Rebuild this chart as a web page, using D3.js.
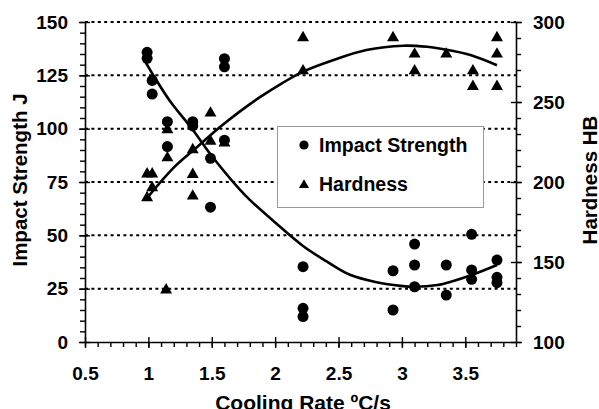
<!DOCTYPE html>
<html>
<head>
<meta charset="utf-8">
<script src="https://cdn.jsdelivr.net/npm/d3@7"></script>
<style>
  body { margin: 0; background: #fff; }
  svg { display: block; font-family: Arial, "Liberation Sans", sans-serif; font-weight: bold; }
</style>
</head>
<body>
<div id="chart"></div>
<script>
// impact strength points [cooling rate, J]
var impactPoints = [
	[0.99,135.8],[0.99,133.0],[1.03,122.6],[1.03,116.2],[1.15,103.3],[1.15,91.6],
	[1.35,103.3],[1.35,101.3],[1.49,86.1],[1.49,63.2],[1.60,132.8],[1.60,129.0],[1.60,94.6],
	[2.22,35.3],[2.22,15.8],[2.22,11.9],[2.93,33.4],[2.93,15.0],
	[3.10,45.9],[3.10,36.1],[3.10,25.9],[3.35,36.1],[3.35,22.0],
	[3.55,50.5],[3.55,33.8],[3.55,29.4],[3.75,38.4],[3.75,30.3],[3.75,27.8]
];
// hardness points [cooling rate, HB]
var hardnessPoints = [
	[0.99,205.0],[1.03,205.0],[1.03,196.4],[0.99,190.2],[1.15,232.7],[1.15,215.1],[1.14,132.5],
	[1.35,220.2],[1.35,204.7],[1.35,191.2],[1.49,243.1],[1.49,225.4],[1.60,224.4],
	[2.22,290.2],[2.22,269.5],[2.93,290.2],[3.10,279.9],[3.10,269.5],[3.35,279.9],
	[3.56,269.5],[3.56,259.7],[3.75,290.2],[3.75,279.9],[3.75,259.7]
];
// trend lines
var impactTrend = [
	[0.98,131],[1.05,124],[1.17,113],[1.35,99.5],[1.49,88],[1.72,71.5],[1.80,66.6],
	[2.0,56],[2.22,45],[2.4,38],[2.59,31.5],[2.8,28],[2.99,26.3],[3.1,25.9],
	[3.28,26.7],[3.4,28.5],[3.55,31.4],[3.75,36.1]
];
var hardnessTrend = [
	[0.99,190],[1.2,209],[1.38,221.5],[1.56,234],[1.72,244],[1.88,253],[2.05,261.5],
	[2.22,269],[2.45,276],[2.72,282.5],[3.01,285.2],[3.2,284.5],[3.33,283],[3.54,279.4],[3.75,273]
];
var xTicks = [0.5, 1, 1.5, 2, 2.5, 3, 3.5];
var leftTicks = [0, 25, 50, 75, 100, 125, 150];
var rightTicks = [100, 150, 200, 250, 300];
var legendLabels = ["Impact Strength", "Hardness"];

var width = 599, height = 409;
var pLeft = 85, pRight = 516, pTop = 22, pBottom = 342;

var svg = d3.select("#chart").append("svg")
	.attr("width", width)
	.attr("height", height);

var x = d3.scaleLinear().domain([0.5, 3.9]).range([pLeft, pRight]);
var yL = d3.scaleLinear().domain([0, 150]).range([pBottom, pTop]);
var yR = d3.scaleLinear().domain([100, 300]).range([pBottom, pTop]);

// dotted gridlines
svg.append("g").selectAll("line")
	.data(leftTicks.filter(function(d){ return d > 0; }))
	.enter().append("line")
	.attr("x1", pLeft).attr("x2", pRight)
	.attr("y1", function(d){ return yL(d); })
	.attr("y2", function(d){ return yL(d); })
	.attr("stroke", "#000")
	.attr("stroke-width", 2)
	.attr("stroke-dasharray", "3,3.4");

function styleAxis(g){
	g.select(".domain").attr("stroke", "#000").attr("stroke-width", 1.6);
	g.selectAll(".tick line").attr("stroke", "#000").attr("stroke-width", 1.4);
	g.selectAll("text").attr("fill", "#000")
		.style("font-size", "19px").style("font-weight", "bold")
		.style("font-family", "Arial, 'Liberation Sans', sans-serif");
}

// bottom axis: minor then major
var xMinor = d3.range(5, 40).map(function(d){ return d / 10; });
svg.append("g").attr("transform", "translate(0," + pBottom + ")")
	.call(d3.axisBottom(x).tickValues(xMinor).tickSize(5).tickSizeOuter(0).tickFormat(""))
	.call(styleAxis);
var gx = svg.append("g").attr("transform", "translate(0," + pBottom + ")")
	.call(d3.axisBottom(x).tickValues(xTicks).tickSize(6).tickSizeOuter(0).tickPadding(19)
		.tickFormat(function(d){ return d; }))
	.call(styleAxis);
gx.select(".domain").remove();
gx.selectAll(".tick line").attr("y1", -5);

// left axis
var lMinor = d3.range(0, 155, 5);
svg.append("g").attr("transform", "translate(" + pLeft + ",0)")
	.call(d3.axisLeft(yL).tickValues(lMinor).tickSize(5).tickSizeOuter(0).tickFormat(""))
	.call(styleAxis);
var gl = svg.append("g").attr("transform", "translate(" + pLeft + ",0)")
	.call(d3.axisLeft(yL).tickValues(leftTicks).tickSize(6).tickSizeOuter(0).tickPadding(11))
	.call(styleAxis);
gl.select(".domain").remove();
gl.selectAll(".tick line").attr("x1", 5);

// right axis
var rMinor = d3.range(100, 310, 10);
svg.append("g").attr("transform", "translate(" + pRight + ",0)")
	.call(d3.axisRight(yR).tickValues(rMinor).tickSize(5).tickSizeOuter(0).tickFormat(""))
	.call(styleAxis);
var gr = svg.append("g").attr("transform", "translate(" + pRight + ",0)")
	.call(d3.axisRight(yR).tickValues(rightTicks).tickSize(6).tickSizeOuter(0).tickPadding(11))
	.call(styleAxis);
gr.select(".domain").remove();
gr.selectAll(".tick line").attr("x1", -5);

// trend lines
var lineL = d3.line().curve(d3.curveCatmullRom)
	.x(function(d){ return x(d[0]); }).y(function(d){ return yL(d[1]); });
var lineR = d3.line().curve(d3.curveCatmullRom)
	.x(function(d){ return x(d[0]); }).y(function(d){ return yR(d[1]); });
svg.append("path").datum(impactTrend).attr("d", lineL)
	.attr("fill", "none").attr("stroke", "#000").attr("stroke-width", 2.6);
svg.append("path").datum(hardnessTrend).attr("d", lineR)
	.attr("fill", "none").attr("stroke", "#000").attr("stroke-width", 2.6);

// markers
var tri = d3.symbol().type(d3.symbolTriangle).size(62);
svg.append("g").selectAll("path")
	.data(hardnessPoints).enter().append("path")
	.attr("d", tri)
	.attr("transform", function(d){ return "translate(" + x(d[0]) + "," + yR(d[1]) + ")"; })
	.attr("fill", "#000");
svg.append("g").selectAll("circle")
	.data(impactPoints).enter().append("circle")
	.attr("cx", function(d){ return x(d[0]); })
	.attr("cy", function(d){ return yL(d[1]); })
	.attr("r", 5.5)
	.attr("fill", "#000");

// legend
var lg = svg.append("g").attr("transform", "translate(277,126)");
lg.append("rect").attr("x", 0.5).attr("y", 0.5).attr("width", 206).attr("height", 81)
	.attr("fill", "#fff").attr("stroke", "#999").attr("stroke-width", 1);
lg.append("circle").attr("cx", 27).attr("cy", 19).attr("r", 4.6).attr("fill", "#000");
lg.append("path").attr("d", d3.symbol().type(d3.symbolTriangle).size(44))
	.attr("transform", "translate(27,59)").attr("fill", "#000");
lg.selectAll("text").data(legendLabels).enter().append("text")
	.attr("x", 42)
	.attr("y", function(d, i){ return 26 + i * 39; })
	.style("font-size", "19.5px")
	.text(function(d){ return d; });

// axis titles
svg.append("text")
	.attr("transform", "translate(26.5,180) rotate(-90)")
	.attr("text-anchor", "middle")
	.style("font-size", "20.5px")
	.text("Impact Strength J");
svg.append("text")
	.attr("transform", "translate(596.5,180) rotate(-90)")
	.attr("text-anchor", "middle")
	.style("font-size", "20.5px")
	.text("Hardness HB");
svg.append("text")
	.attr("x", 303)
	.attr("y", 410)
	.attr("text-anchor", "middle")
	.style("font-size", "21px")
	.text("Cooling Rate ºC/s");
</script>
</body>
</html>
